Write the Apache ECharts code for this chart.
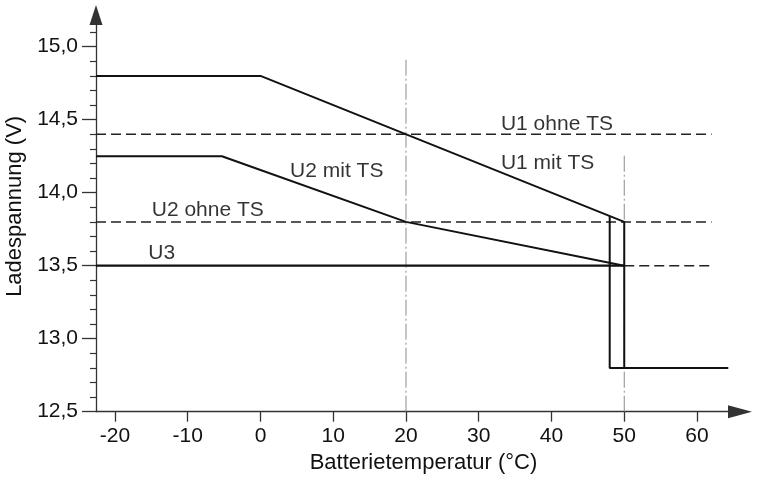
<!DOCTYPE html>
<html>
<head>
<meta charset="utf-8">
<script src="https://cdn.jsdelivr.net/npm/echarts@6/dist/echarts.min.js"></script>
<style>html,body{margin:0;padding:0;background:#fff}#c{width:765px;height:482px}</style>
</head>
<body>
<div id="c"></div>
<script>
// ---- data ----
var xTicks = [-20, -10, 0, 10, 20, 30, 40, 50, 60];
var yTicks = [12.5, 13.0, 13.5, 14.0, 14.5, 15.0];
var yMinorTicks = [12.6, 12.7, 12.8, 12.9, 13.1, 13.2, 13.3, 13.4, 13.6, 13.7, 13.8, 13.9, 14.1, 14.2, 14.3, 14.4, 14.6, 14.7, 14.8, 14.9, 15.1];
var xMin = -22.61, xMax = 65.91, yMin = 12.5, yMax = 15.217;

var u1MitTS = [[-22.61, 14.8], [0, 14.8], [50, 13.8], [50, 12.8], [64.3, 12.8]];
var u1Return = [[48, 13.84], [48, 12.8], [50, 12.8]];
var u2MitTS = [[-22.61, 14.25], [-5.3, 14.25], [20, 13.8], [50, 13.5]];
var u3 = [[-22.61, 13.5], [50, 13.5]];
var u3Ext = [[50, 13.5], [62, 13.5]];
var u1Ohne = [[-22.61, 14.4], [62, 14.4]];
var u2Ohne = [[-22.61, 13.8], [62, 13.8]];
var guide20 = [[20, 12.5], [20, 14.93]];
var guide50 = [[50, 12.5], [50, 14.27]];

var labelNames = ['U1 ohne TS', 'U1 mit TS', 'U2 mit TS', 'U2 ohne TS', 'U3'];
var labelX = [33.05, 33.05, 4.07, -14.95, -15.42];
var labelY = [14.47, 14.20, 14.144, 13.877, 13.587];

// ---- chart ----
var FONT = '"Liberation Sans", Arial, sans-serif';
var chart = echarts.init(document.getElementById('c'), null, {renderer: 'canvas'});

function lineSeries(data, style) {
  return {
    type: 'line', data: data, symbol: 'none', silent: true, animation: false,
    clip: false, lineStyle: style, z: style.z || 2
  };
}

var labelData = labelNames.map(function (n, i) { return {name: n, value: [labelX[i], labelY[i]]}; });

var option = {
  animation: false,
  grid: {left: 96, right: 25, top: 15, bottom: 70.3, containLabel: false, outerBoundsMode: 'none'},
  xAxis: {
    type: 'value', min: xMin, max: xMax,
    name: 'Batterietemperatur (°C)', nameLocation: 'middle', nameGap: 40,
    nameTextStyle: {fontFamily: FONT, fontSize: 22, color: '#111', padding: [0, 0, 0, 11]},
    axisLine: {show: true, onZero: false, lineStyle: {color: '#333', width: 1.3}, symbol: ['none', 'triangle'], symbolSize: [13, 24]},
    axisTick: {show: true, length: 10, inside: false, customValues: xTicks, lineStyle: {color: '#333', width: 1.3}},
    axisLabel: {show: true, margin: 14, customValues: xTicks, fontFamily: FONT, fontSize: 21, color: '#111'},
    splitLine: {show: false}
  },
  yAxis: [{
    type: 'value', min: yMin, max: yMax,
    name: 'Ladespannung (V)', nameLocation: 'middle', nameGap: 63,
    nameTextStyle: {fontFamily: FONT, fontSize: 22, color: '#111', padding: [0, 0, 0, 14]},
    axisLine: {show: true, onZero: false, lineStyle: {color: '#333', width: 1.3}, symbol: ['none', 'triangle'], symbolSize: [13, 20]},
    axisTick: {show: true, length: 14, inside: false, customValues: yTicks, lineStyle: {color: '#333', width: 1.3}},
    axisLabel: {show: true, margin: 18, customValues: yTicks, fontFamily: FONT, fontSize: 21, color: '#111',
      formatter: function (v) { return v.toFixed(1).replace('.', ','); }},
    splitLine: {show: false}
  }, {
    type: 'value', min: yMin, max: yMax, position: 'left',
    axisLine: {show: false, onZero: false},
    axisTick: {show: true, length: 6, inside: false, customValues: yMinorTicks, lineStyle: {color: '#333', width: 1.2}},
    axisLabel: {show: false},
    splitLine: {show: false}
  }],
  series: [
    lineSeries(guide20, {color: '#8a8a8a', width: 1, type: [16, 3, 2, 3]}),
    lineSeries(guide50, {color: '#8a8a8a', width: 1, type: [16, 3, 2, 3]}),
    lineSeries(u1Ohne, {color: '#222', width: 1.5, type: [10, 5]}),
    lineSeries(u2Ohne, {color: '#222', width: 1.5, type: [10, 5]}),
    lineSeries(u3Ext, {color: '#222', width: 1.5, type: [10, 5]}),
    lineSeries(u3, {color: '#111', width: 2.2, z: 3}),
    lineSeries(u2MitTS, {color: '#111', width: 2, z: 3}),
    lineSeries(u1MitTS, {color: '#111', width: 2, z: 3}),
    lineSeries(u1Return, {color: '#111', width: 2, z: 3}),
    {
      type: 'scatter', data: labelData, symbolSize: 0, silent: true, animation: false, clip: false, z: 5,
      label: {show: true, position: [0, 0], align: 'left', verticalAlign: 'middle',
        formatter: '{b}', fontFamily: FONT, fontSize: 21, color: '#000'}
    }
  ]
};
chart.setOption(option);
</script>
</body>
</html>
